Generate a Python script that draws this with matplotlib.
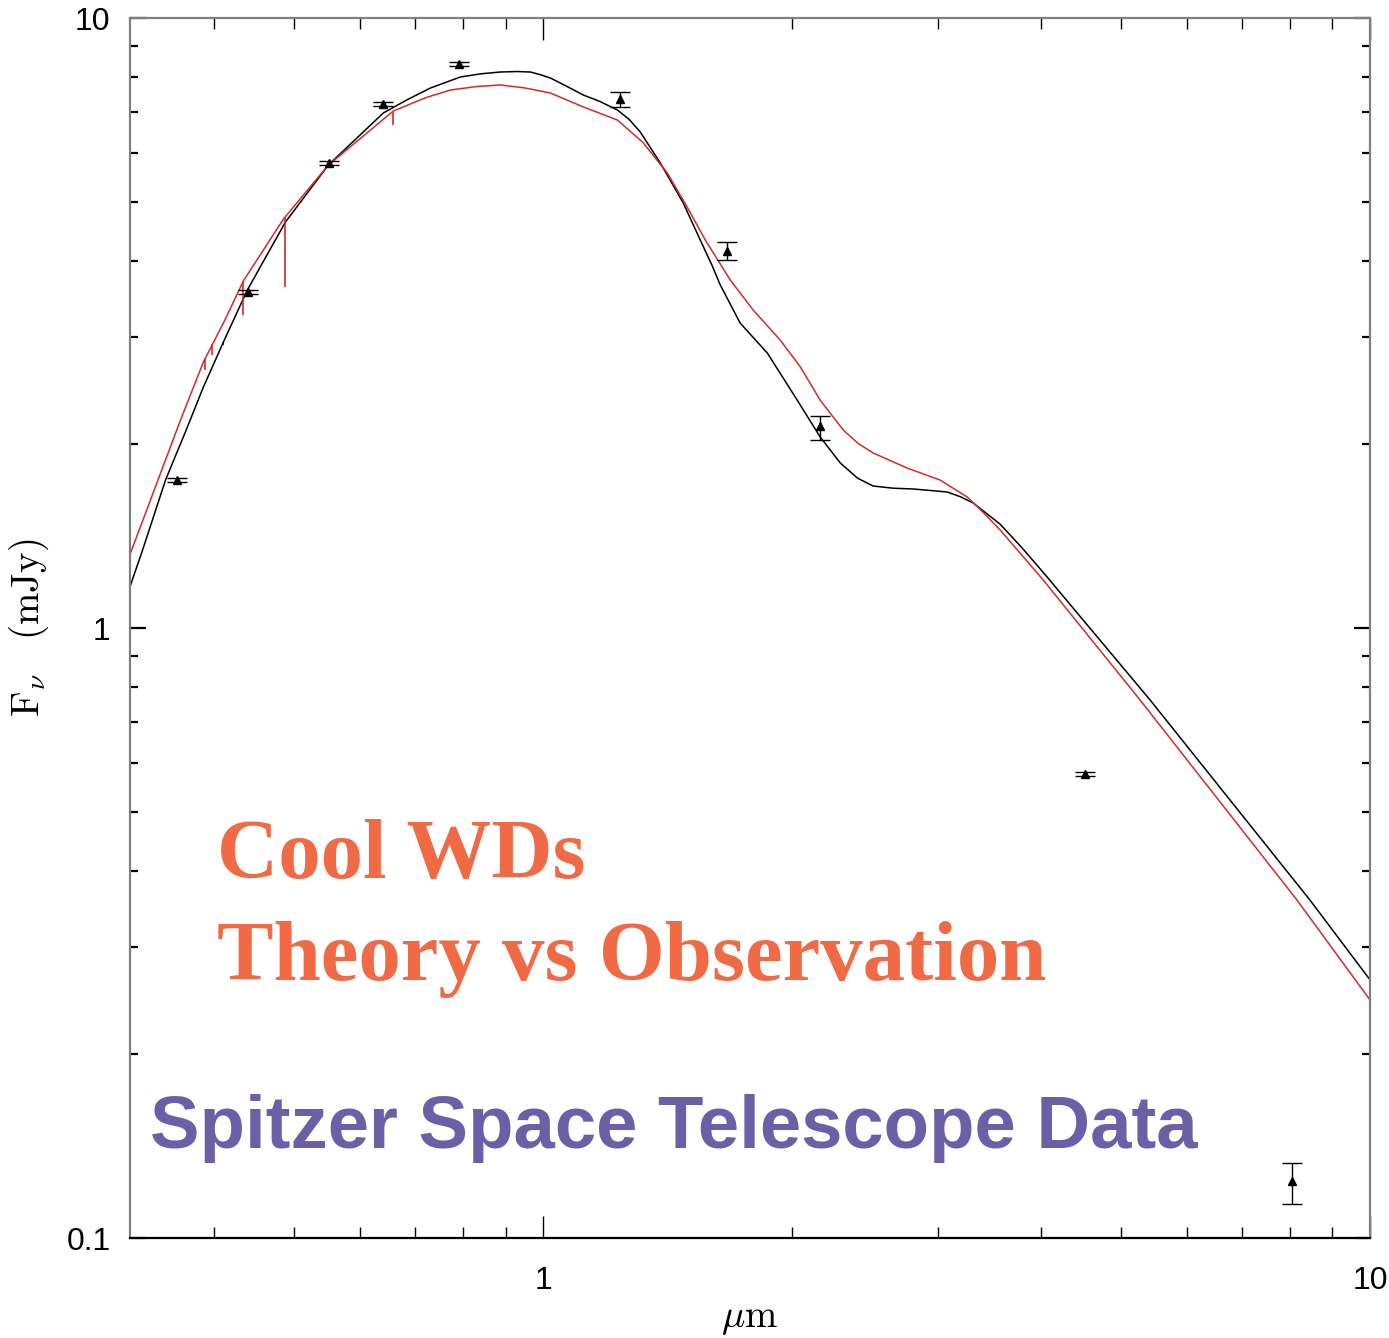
"""
Cool white dwarf SED: model spectra vs Spitzer / optical photometry.
"""

import numpy as np
import matplotlib
matplotlib.use("Agg")
import matplotlib.pyplot as plt
from matplotlib.ticker import FixedLocator, NullFormatter, LogLocator

# ── Data (wavelength in micron, flux in mJy) ─────────────────────────────────
black_wl = [0.3167, 0.3275, 0.3491, 0.3690, 0.3880, 0.4113, 0.4385, 0.4876,
            0.5495, 0.6404, 0.6850, 0.7301, 0.7937, 0.8400, 0.8872, 0.9300,
            0.9645, 0.9900, 1.0198, 1.0650, 1.1178, 1.1700, 1.2289, 1.2700,
            1.3100, 1.3852, 1.4766, 1.5481, 1.6000, 1.6370, 1.7300, 1.8660,
            2.0280, 2.1620, 2.2870, 2.4000, 2.5060, 2.6500, 2.8030, 3.0800,
            3.2000, 3.3110, 3.5690, 3.8000, 4.0690, 5.4200, 8.4610, 10.000]
black_flux = [1.176, 1.342, 1.748, 2.096, 2.484, 2.966, 3.582, 4.630,
              5.741, 6.987, 7.350, 7.677, 8.004, 8.100, 8.156, 8.170,
              8.156, 8.080, 7.973, 7.740, 7.477, 7.300, 7.068, 6.820,
              6.504, 5.784, 4.975, 4.326, 3.930, 3.650, 3.162, 2.824,
              2.364, 2.057, 1.864, 1.760, 1.709, 1.695, 1.690, 1.671,
              1.640, 1.603, 1.480, 1.350, 1.212, 0.762, 0.358, 0.265]

red_wl = [0.3167, 0.3640, 0.3880, 0.4102, 0.4337, 0.4849, 0.5495, 0.6585,
          0.7200, 0.7721, 0.8300, 0.8872, 0.9500, 1.0198, 1.1178, 1.2289,
          1.3200, 1.4124, 1.4900, 1.5700, 1.6830, 1.7940, 1.9340, 2.0460,
          2.1620, 2.3060, 2.4000, 2.5060, 2.7550, 3.0200, 3.2560, 3.4000,
          3.5690, 4.0240, 5.2710, 8.1610, 10.000]
red_flux = [1.327, 2.193, 2.730, 3.162, 3.707, 4.683, 5.741, 7.039,
            7.400, 7.621, 7.720, 7.767, 7.680, 7.534, 7.148, 6.805,
            6.250, 5.570, 4.920, 4.326, 3.720, 3.321, 2.966, 2.679,
            2.364, 2.111, 2.010, 1.936, 1.829, 1.748, 1.640, 1.550,
            1.448, 1.199, 0.762, 0.358, 0.2456]

# narrow absorption features (wavelength, depth floor)
red_line_wl = [0.3900, 0.3979, 0.4337, 0.4876, 0.6585]
red_line_floor = [2.65, 2.80, 3.26, 3.62, 6.68]
black_line_wl = [0.4102]
black_line_floor = [2.91]

# photometry
obs_wl = [0.3608, 0.4398, 0.551, 0.640, 0.791, 1.239, 1.669, 2.163, 4.52, 8.05]
obs_flux = [1.748, 3.555, 5.785, 7.23, 8.41, 7.36, 4.15, 2.143, 0.576, 0.124]
obs_err_lo = [0.012, 0.025, 0.04, 0.05, 0.06, 0.22, 0.14, 0.109, 0.004, 0.0101]
obs_err_hi = [0.012, 0.025, 0.04, 0.05, 0.06, 0.20, 0.14, 0.083, 0.004, 0.0085]

RED = "#D42A2A"
ORANGE = "#F06A45"
PURPLE = "#6C5FA7"
SPINE = "#808080"

plt.rcParams.update({
    "mathtext.fontset": "cm",
    "font.family": ["Liberation Sans Narrow", "Liberation Sans", "DejaVu Sans"],
})

fig = plt.figure(figsize=(13.89, 13.38), dpi=100)
ax = fig.add_axes([130 / 1389, 1 - 1238 / 1338, 1240 / 1389, 1220 / 1338])

ax.plot(black_wl, black_flux, color="black", lw=1.1)
ax.plot(red_wl, red_flux, color=RED, lw=1.1)


def _line_tops(wl, curve_wl, curve_flux):
    return 10 ** np.interp(np.log10(wl), np.log10(curve_wl), np.log10(curve_flux))


ax.vlines(red_line_wl, red_line_floor, _line_tops(red_line_wl, red_wl, red_flux),
          color=RED, lw=1.2)
ax.vlines(black_line_wl, black_line_floor, _line_tops(black_line_wl, black_wl, black_flux),
          color="black", lw=1.2)

ax.errorbar(obs_wl, obs_flux, yerr=[obs_err_lo, obs_err_hi], fmt="^", color="black",
            ms=6, elinewidth=1, capsize=7, capthick=1)

ax.set_xscale("log")
ax.set_yscale("log")
ax.set_xlim(10 ** -0.5, 10)
ax.set_ylim(0.1, 10)

ax.xaxis.set_major_locator(FixedLocator([1, 10]))
ax.set_xticklabels(["1", "10"])
ax.xaxis.set_minor_locator(LogLocator(base=10, subs=np.arange(2, 10)))
ax.xaxis.set_minor_formatter(NullFormatter())
ax.yaxis.set_major_locator(FixedLocator([0.1, 1, 10]))
ax.set_yticklabels(["0.1", "1", "10"])
ax.yaxis.set_minor_locator(LogLocator(base=10, subs=np.arange(2, 10)))
ax.yaxis.set_minor_formatter(NullFormatter())

ax.tick_params(which="both", direction="in", top=True, right=True, labelsize=23)
ax.tick_params(axis="x", which="major", length=16, width=1, pad=20)
ax.tick_params(axis="x", which="minor", length=8, width=1)
ax.tick_params(axis="y", which="major", length=11.5, width=1.6, pad=14)
ax.tick_params(axis="y", which="minor", length=6, width=1.6)

for side in ["left", "top", "right"]:
    ax.spines[side].set_color(SPINE)
    ax.spines[side].set_linewidth(1.6)
ax.spines["bottom"].set_color("black")
ax.spines["bottom"].set_linewidth(1.6)

ax.set_xlabel(r"$\mu\mathrm{m}$", fontsize=28, labelpad=4)
ax.set_ylabel(r"$\mathrm{F}_\nu\ \ \ (\mathrm{mJy})$", fontsize=28)
ax.yaxis.set_label_coords(-0.064, 0.500)

fig.text(217 / 1389, 1 - 878 / 1338, "Cool WDs", fontsize=61, fontweight="bold",
         family="Liberation Serif", color=ORANGE, va="baseline")
fig.text(217 / 1389, 1 - 980 / 1338, "Theory vs Observation", fontsize=61,
         fontweight="bold", family="Liberation Serif", color=ORANGE, va="baseline")
fig.text(150 / 1389, 1 - 1148 / 1338, "Spitzer Space Telescope Data", fontsize=53.6,
         fontweight="bold", family="Liberation Sans", color=PURPLE, va="baseline")

fig.savefig("out.png", dpi=100)
